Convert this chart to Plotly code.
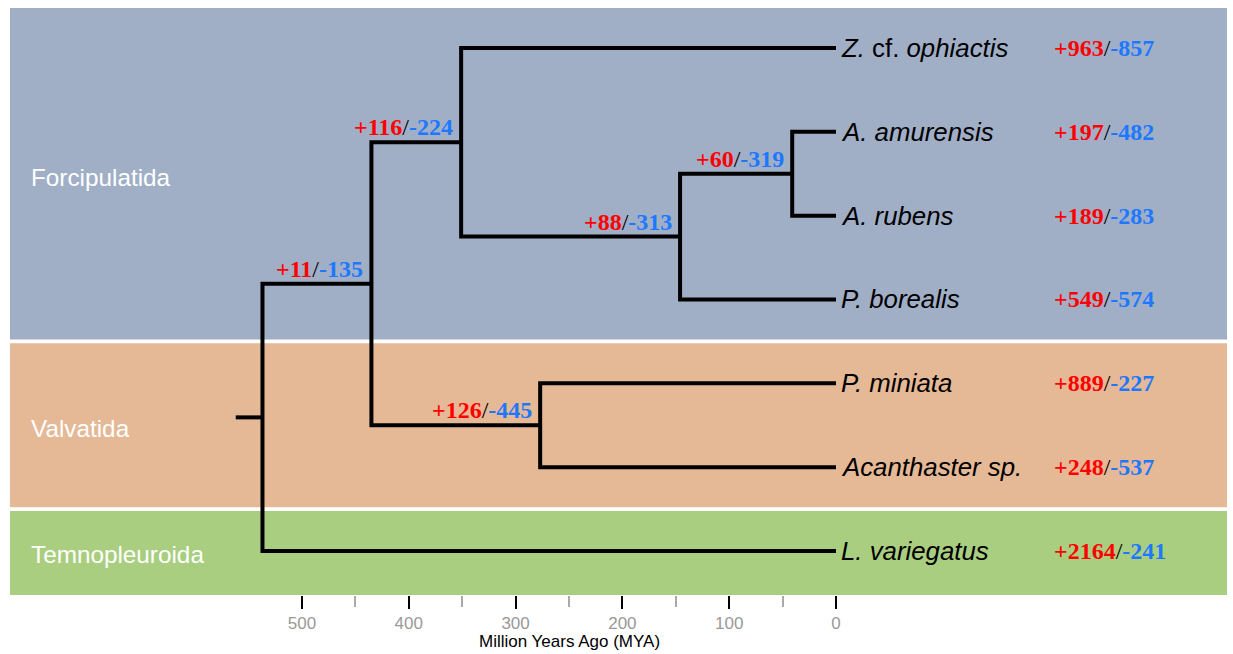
import plotly.graph_objects as go

# ---------------- data ----------------
leaf_ids = ["Zoph", "Aamu", "Arub", "Pbor", "Pmin", "Acan", "Lvar"]
leaf_labels = ["<i>Z.</i> cf. <i>ophiactis</i>", "<i>A. amurensis</i>", "<i>A. rubens</i>",
               "<i>P. borealis</i>", "<i>P. miniata</i>", "<i>Acanthaster sp.</i>",
               "<i>L. variegatus</i>"]
leaf_gain = [963, 197, 189, 549, 889, 248, 2164]
leaf_loss = [857, 482, 283, 574, 227, 537, 241]

node_ids = ["root", "FV", "Forc", "PbA", "AA", "Valv"]
node_children = [["FV", "Lvar"], ["Forc", "Valv"], ["Zoph", "PbA"],
                 ["AA", "Pbor"], ["Aamu", "Arub"], ["Pmin", "Acan"]]
node_age = [537, 435, 351, 146, 41, 277]          # million years ago
node_gain = [None, 11, 116, 88, 60, 126]
node_loss = [None, 135, 224, 313, 319, 445]
root_stem_age = 562

groups = ["Forcipulatida", "Valvatida", "Temnopleuroida"]
group_first_leaf = [1, 5, 7]
group_last_leaf = [4, 6, 7]
group_colors = ["#A0AFC6", "#E5B896", "#A9CE80"]

major_ticks = [500, 400, 300, 200, 100, 0]
minor_ticks = [450, 350, 250, 150, 50]

RED = "#FF0000"
BLUE = "#1E78FF"

# ---------------- layout of tree ----------------
pos = {}
for i, lid in enumerate(leaf_ids):
    pos[lid] = (0, i + 1)
pending = list(range(len(node_ids)))
while pending:
    for k in list(pending):
        ch = node_children[k]
        if all(c in pos for c in ch):
            ys_ = [pos[c][1] for c in ch]
            pos[node_ids[k]] = (node_age[k], sum(ys_) / len(ys_))
            pending.remove(k)

xs, ys = [], []
for k, nid in enumerate(node_ids):
    nx, ny = pos[nid]
    c1, c2 = node_children[k]
    x1, y1 = pos[c1]
    x2, y2 = pos[c2]
    xs += [x1, nx, nx, x2, None]
    ys += [y1, y1, y2, y2, None]
rx, ry = pos["root"]
xs += [root_stem_age, rx, None]
ys += [ry, ry, None]

fig = go.Figure()

# background bands
for g, f, l, c in zip(groups, group_first_leaf, group_last_leaf, group_colors):
    y0 = f - 0.5 + (0.022 if f > 1 else -0.03)
    y1 = l + 0.5 - (0.022 if l < len(leaf_ids) else -0.03)
    fig.add_shape(type="rect", xref="paper", yref="y", x0=0, x1=1, y0=y0, y1=y1,
                  fillcolor=c, line=dict(width=0), layer="below")
    fig.add_annotation(xref="paper", yref="y", x=0.0155, y=(f + l) / 2 + 0.04,
                       text=g, showarrow=False, xanchor="left", yanchor="middle",
                       font=dict(family="Liberation Sans, Arial", size=24.3, color="white"))

fig.add_trace(go.Scatter(x=xs, y=ys, mode="lines",
                         line=dict(color="black", width=4), hoverinfo="skip",
                         showlegend=False))

count_font = dict(family="Liberation Serif, Times New Roman", size=24, color="black")


def count_text(gain, loss):
    return (f'<span style="color:{RED}"><b>+{gain}</b></span>/'
            f'<span style="color:{BLUE}"><b>-{loss}</b></span>')


# leaf labels and counts
for lid, lab, g, l in zip(leaf_ids, leaf_labels, leaf_gain, leaf_loss):
    x, y = pos[lid]
    fig.add_annotation(x=x, y=y, text=lab, showarrow=False, xanchor="left",
                       yanchor="middle", xshift=3,
                       font=dict(family="Liberation Sans, Arial", size=25.8, color="black"))
    fig.add_annotation(x=-202, y=y, text=count_text(g, l), showarrow=False,
                       xanchor="left", yanchor="middle", font=count_font)

# internal node counts
for nid, g, l in zip(node_ids, node_gain, node_loss):
    if g is None:
        continue
    x, y = pos[nid]
    fig.add_annotation(x=x, y=y, text=count_text(g, l), showarrow=False,
                       xanchor="right", yanchor="bottom", xshift=-6, yshift=0,
                       font=count_font)

# axis title centred under the tick range
fig.add_annotation(xref="x", yref="paper", x=(major_ticks[0] + major_ticks[-1]) / 2,
                   y=-0.079, text="Million Years Ago (MYA)", showarrow=False,
                   xanchor="center", yanchor="middle",
                   font=dict(family="Liberation Sans, Arial", size=17, color="black"))

fig.update_layout(
    width=1233, height=654,
    margin=dict(l=10, r=6, t=8, b=59),
    plot_bgcolor="white", paper_bgcolor="white",
    showlegend=False,
    xaxis=dict(range=[773.4, -366.1], showgrid=False, zeroline=False, showline=False,
               tickmode="array", tickvals=major_ticks,
               ticktext=[str(t) for t in major_ticks],
               ticks="outside", ticklen=13, tickwidth=2, tickcolor="black",
               tickfont=dict(family="Liberation Sans, Arial", size=17, color="#999999"),
               minor=dict(tickmode="array", tickvals=minor_ticks, ticks="outside",
                          ticklen=11, tickwidth=2, tickcolor="#AAAAAA", showgrid=False)),
    yaxis=dict(range=[7.525, 0.523], showgrid=False, zeroline=False, showline=False,
               showticklabels=False, ticks=""),
)

fig.write_html("out.html")
